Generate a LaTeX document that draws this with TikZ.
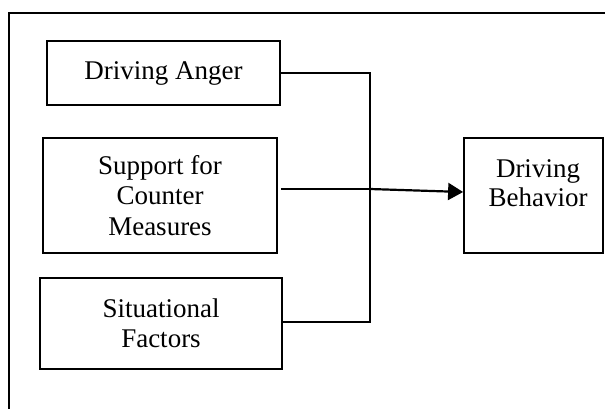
\documentclass[tikz,border=0pt]{standalone}
\usepackage{fontspec}
\setmainfont{Liberation Serif}
\usetikzlibrary{arrows.meta}
\begin{document}
\begin{tikzpicture}[x=1pt,y=-1pt,
  box/.style={draw,line width=1.8pt,inner sep=0pt,align=center,font=\fontsize{27}{30.5}\selectfont},
  txt/.style={inner sep=0pt,align=center,font=\fontsize{27}{29.5}\selectfont},
  conn/.style={line width=1.5pt},
  arr/.style={line width=2.2pt,-{Triangle[length=15pt,width=17pt]}}]
\useasboundingbox (0,0) rectangle (605,409);
\draw[line width=2.6pt] (605,13) -- (9,13) -- (9,409);
\node[box,minimum width=233,minimum height=64] (anger) at (163.5,73) {Driving Anger};
\node[box,minimum width=234,minimum height=115] (support) at (160,195.5) {Support for\\Counter\\Measures};
\node[box,minimum width=242,minimum height=91] (situ) at (161,323.5) {Situational\\Factors};
\node[draw,line width=1.8pt,minimum width=139,minimum height=115] (behav) at (533.5,195.5) {};
\node[txt] (behavtext) at (538,183) {Driving\\Behavior};
\coordinate (jt) at (370,73);
\coordinate (jm) at (370,189);
\coordinate (jb) at (370,322);
\draw[conn] (anger.east |- jt) -- (jt) -- (jb) -- ([xshift=-1pt]situ.east |- jb);
\draw[conn] ([xshift=3pt]support.east |- jm) -- (jm);
\draw[arr] (jm) -- ([yshift=3.5pt]behav.west);
\end{tikzpicture}
\end{document}
